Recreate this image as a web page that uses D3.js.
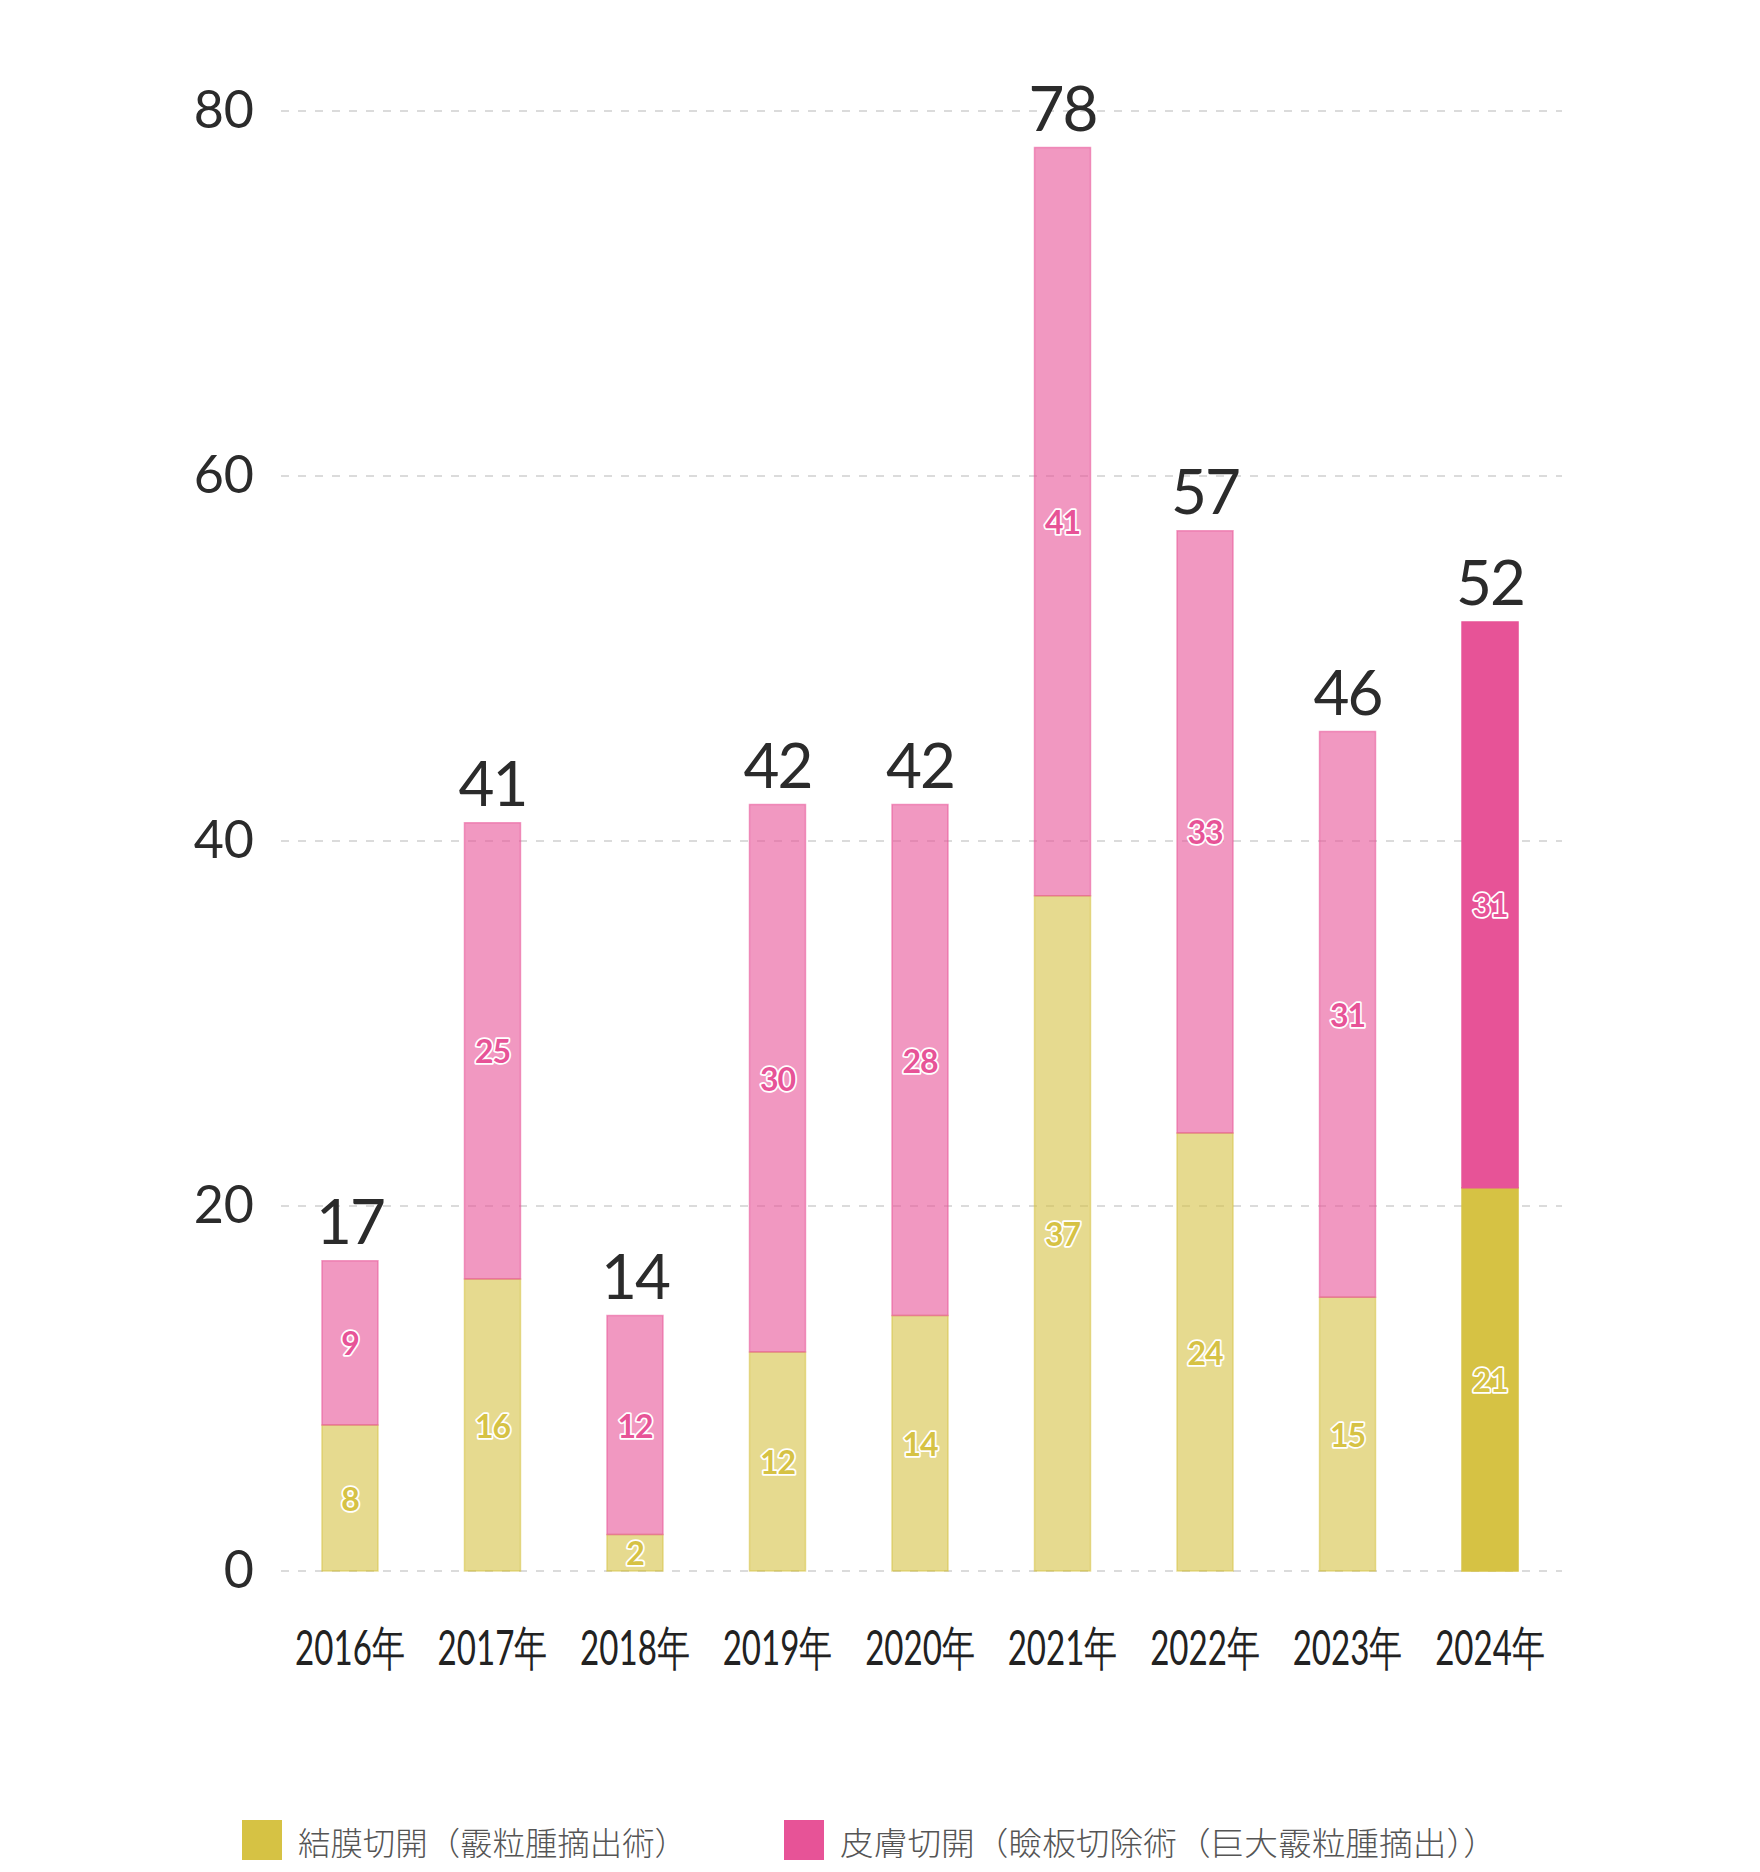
<!DOCTYPE html>
<html>
<head>
<meta charset="utf-8">
<script src="https://cdn.jsdelivr.net/npm/d3@7"></script>
<style>
  html, body { margin: 0; padding: 0; background: #fff; }
  svg { display: block; }
</style>
</head>
<body>
<svg id="chart" width="1760" height="1872"></svg>
<script>
// ---- Data ----
const years = ["2016年", "2017年", "2018年", "2019年", "2020年", "2021年", "2022年", "2023年", "2024年"];
const conjunctival = [8, 16, 2, 12, 14, 37, 24, 15, 21];   // 結膜切開（霰粒腫摘出術）
const cutaneous    = [9, 25, 12, 30, 28, 41, 33, 31, 31];  // 皮膚切開（瞼板切除術（巨大霰粒腫摘出））
const totals       = [17, 41, 14, 42, 42, 78, 57, 46, 52];
const yTicks = [0, 20, 40, 60, 80];
const seriesNames = ["結膜切開（霰粒腫摘出術）", "皮膚切開（瞼板切除術（巨大霰粒腫摘出））"];
const highlightYear = "2024年";

// ---- Styles ----
const colors = ["#D6C244", "#E75397"];
const numFont = "Lato, 'Noto Sans', sans-serif";
const cjkFont = "'Noto Sans CJK JP', 'Noto Sans CJK SC', sans-serif";

const svg = d3.select("#chart");

const gridX0 = 281, gridX1 = 1562;
const x = d3.scaleBand().domain(years).range([279.5, 1560.5]).paddingInner(0.607).paddingOuter(0.298);
const y = d3.scaleLinear().domain([0, 80]).range([1571, 111]);

// grid
svg.append("g").selectAll("line").data(yTicks).join("line")
  .attr("x1", gridX0).attr("x2", gridX1)
  .attr("y1", d => y(d)).attr("y2", d => y(d))
  .attr("stroke", "#cfcfcf").attr("stroke-width", 1.5)
  .attr("stroke-dasharray", "8,9");

// y tick labels
svg.append("g").selectAll("text").data(yTicks).join("text")
  .attr("x", 254).attr("y", d => y(d) + 17)
  .attr("text-anchor", "end")
  .attr("font-family", numFont).attr("font-size", 52)
  .attr("fill", "#2b2b2b")
  .text(d => d);

// stacked data
const rows = years.map((yr, i) => ({ year: yr, s0: conjunctival[i], s1: cutaneous[i] }));
const stack = d3.stack().keys(["s0", "s1"])(rows);

const gBars = svg.append("g");
stack.forEach((layer, li) => {
  gBars.append("g").selectAll("rect").data(layer).join("rect")
    .attr("x", d => x(d.data.year))
    .attr("width", x.bandwidth())
    .attr("y", d => y(d[1]))
    .attr("height", d => y(d[0]) - y(d[1]))
    .attr("fill", colors[li])
    .attr("fill-opacity", d => d.data.year === highlightYear ? 1 : 0.6)
    .attr("stroke", colors[li])
    .attr("stroke-opacity", d => d.data.year === highlightYear ? 1 : 0.55)
    .attr("stroke-width", 1.5);
});

// segment labels
stack.forEach((layer, li) => {
  svg.append("g").selectAll("text").data(layer).join("text")
    .attr("x", d => x(d.data.year) + x.bandwidth() / 2)
    .attr("y", d => y((d[0] + d[1]) / 2))
    .attr("text-anchor", "middle")
    .attr("dominant-baseline", "central")
    .attr("font-family", numFont).attr("font-size", 32).attr("font-weight", 700)
    .attr("fill", colors[li])
    .attr("stroke", "#ffffff").attr("stroke-width", 3.5)
    .attr("stroke-linejoin", "round")
    .attr("paint-order", "stroke")
    .attr("letter-spacing", -1)
    .text(d => d[1] - d[0]);
});

// totals
svg.append("g").selectAll("text").data(years).join("text")
  .attr("x", d => x(d) + x.bandwidth() / 2)
  .attr("y", (d, i) => y(totals[i]) - 17)
  .attr("text-anchor", "middle")
  .attr("font-family", numFont).attr("font-size", 62)
  .attr("fill", "#2b2b2b")
  .attr("letter-spacing", -2)
  .text((d, i) => totals[i]);

// x labels (horizontally condensed, as in the reference)
svg.append("g").selectAll("text").data(years).join("text")
  .attr("transform", d => `translate(${x(d) + x.bandwidth() / 2},1665) scale(0.69,1)`)
  .attr("text-anchor", "middle")
  .attr("font-family", numFont).attr("font-size", 48)
  .attr("fill", "#222")
  .text(d => d);

// legend
const legendX = [242, 784];
const legendW = [389, 657];
const lg = svg.append("g");
seriesNames.forEach((name, i) => {
  lg.append("rect").attr("x", legendX[i]).attr("y", 1820).attr("width", 40).attr("height", 40)
    .attr("fill", colors[i]);
  lg.append("text").attr("x", legendX[i] + 56).attr("y", 1841)
    .attr("dominant-baseline", "central")
    .attr("font-family", cjkFont).attr("font-size", 32).attr("font-weight", 300)
    .attr("fill", "#555")
    .attr("textLength", legendW[i])
    .attr("lengthAdjust", "spacingAndGlyphs")
    .text(name);
});
</script>
</body>
</html>
